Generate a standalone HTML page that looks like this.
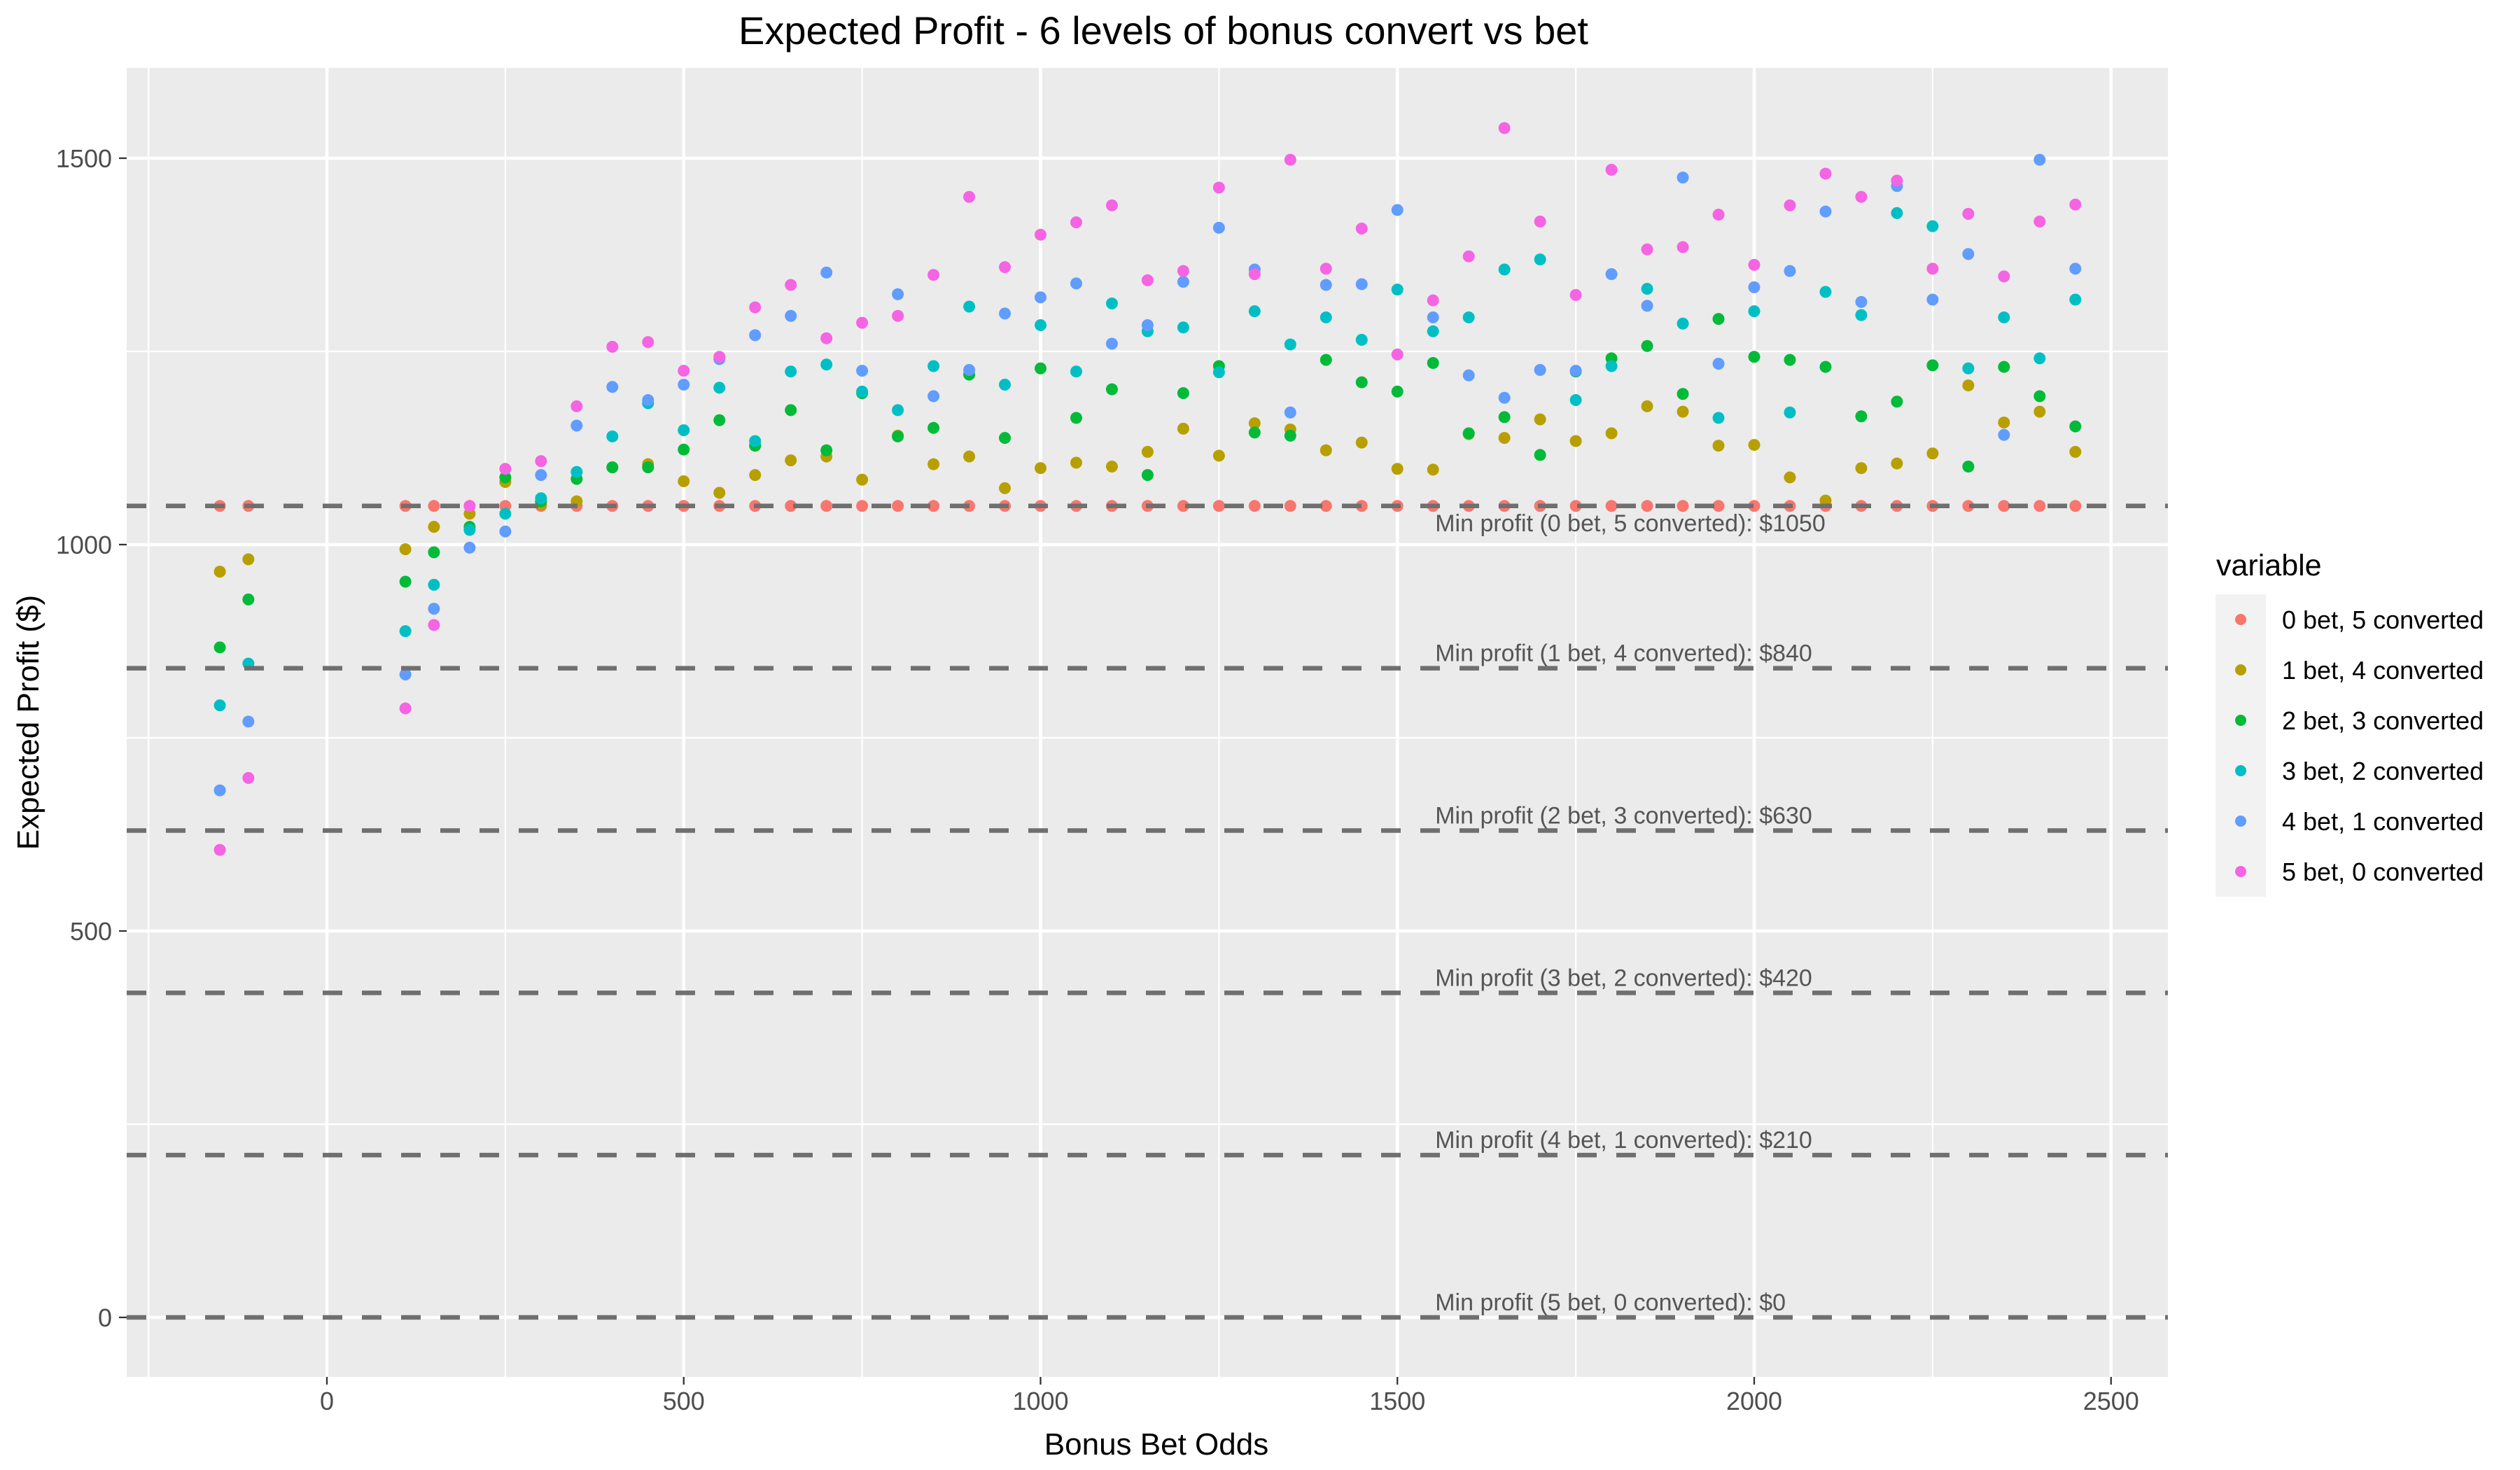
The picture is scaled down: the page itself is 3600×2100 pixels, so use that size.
<!DOCTYPE html>
<html><head><meta charset="utf-8"><style>
html,body{margin:0;padding:0;background:#fff;}
svg{display:block;font-family:"Liberation Sans",Arial,sans-serif;}
</style></head><body>
<svg id="chart" width="3600" height="2100" viewBox="0 0 3600 2100" xmlns="http://www.w3.org/2000/svg">
<rect width="3600" height="2100" fill="#fff"/>
<text x="1662" y="63" font-size="56" text-anchor="middle" fill="#000">Expected Profit - 6 levels of bonus convert vs bet</text>
<rect x="181" y="97" width="2916" height="1870" fill="#EBEBEB"/>
<g id="grid"></g>
<g id="points"></g>
<g id="hlines"></g>
<g id="axes"></g>
<text x="1652" y="2078" font-size="44" text-anchor="middle" fill="#000">Bonus Bet Odds</text>
<text transform="translate(55,1032) rotate(-90)" font-size="44" text-anchor="middle" fill="#000">Expected Profit ($)</text>
<g id="legend"></g>
</svg>
<script>
const xOdds = [-150,-110,110,150,200,250,300,350,400,450,500,550,600,650,700,750,800,850,900,950,1000,1050,1100,1150,1200,1250,1300,1350,1400,1450,1500,1550,1600,1650,1700,1750,1800,1850,1900,1950,2000,2050,2100,2150,2200,2250,2300,2350,2400,2450];
const seriesNames = ["0 bet, 5 converted","1 bet, 4 converted","2 bet, 3 converted","3 bet, 2 converted","4 bet, 1 converted","5 bet, 0 converted"];
const s0 = xOdds.map(()=>1050);
const s1 = [965,981,994,1023,1040,1081,1052,1056,1100,1104,1082,1067,1090,1109,1114,1084,1141,1104,1114,1073,1099,1106,1101,1120,1150,1115,1157,1149,1122,1132,1098,1097,1143,1138,1162,1134,1144,1179,1172,1128,1129,1087,1057,1099,1105,1118,1206,1158,1172,1120];
const s2 = [867,929,952,990,1023,1087,1056,1085,1100,1100,1123,1161,1128,1174,1122,1196,1140,1151,1220,1138,1228,1164,1201,1090,1196,1231,1145,1141,1239,1210,1198,1235,1144,1165,1116,1224,1241,1257,1195,1292,1243,1239,1230,1166,1185,1232,1101,1230,1192,1153];
const s3 = [792,846,888,948,1019,1040,1060,1094,1140,1183,1148,1203,1134,1224,1233,1198,1174,1231,1308,1207,1284,1224,1312,1276,1281,1223,1302,1259,1294,1265,1330,1276,1294,1356,1369,1187,1231,1331,1286,1164,1302,1171,1327,1297,1429,1412,1228,1294,1241,1317];
const s4 = [682,771,832,917,996,1017,1090,1154,1204,1187,1207,1240,1271,1296,1352,1225,1324,1192,1226,1299,1320,1338,1260,1284,1340,1410,1356,1171,1336,1337,1433,1294,1219,1190,1226,1225,1350,1309,1475,1234,1333,1354,1431,1314,1464,1317,1376,1142,1498,1357];
const s5 = [605,698,788,896,1050,1098,1108,1179,1256,1262,1225,1243,1307,1336,1267,1287,1296,1349,1450,1359,1401,1417,1439,1342,1354,1462,1350,1498,1357,1409,1246,1316,1373,1539,1418,1323,1485,1382,1385,1427,1362,1439,1480,1450,1471,1357,1428,1347,1418,1440];
const minProfits = [1050,840,630,420,210,0];
const xTicks = [0,500,1000,1500,2000,2500];
const xMinor = [-250,250,750,1250,1750,2250];
const yTicks = [0,500,1000,1500];
const yMinor = [250,750,1250];

const colors = ["#F8766D","#B79F00","#00BA38","#00BFC4","#619CFF","#F564E3"];
const allSeries = [s0,s1,s2,s3,s4,s5];
const NS = "http://www.w3.org/2000/svg";
const PL=181, PR=3097, PT=97, PB=1967;
function X(v){ return 467 + v*1.0195; }
function Y(v){ return 1882 - v*1.104; }
function mk(tag, attrs, parent){ const e=document.createElementNS(NS,tag); for(const k in attrs) e.setAttribute(k,attrs[k]); parent.appendChild(e); return e; }

const grid=document.getElementById('grid');
xMinor.forEach(v=>{ const x=X(v); if(x<PL||x>PR) return;
  const l=mk('line',{x1:x,x2:x,y1:PT,y2:PB,stroke:'#fff','stroke-width':2.3},grid);
  
   });
yMinor.forEach(v=>{ const y=Y(v);
  const l=mk('line',{x1:PL,x2:PR,y1:y,y2:y,stroke:'#fff','stroke-width':2.3},grid);
  
   });
xTicks.forEach(v=>{ const x=X(v);
  const l=mk('line',{x1:x,x2:x,y1:PT,y2:PB,stroke:'#fff','stroke-width':4.6},grid);
  
   });
yTicks.forEach(v=>{ const y=Y(v);
  const l=mk('line',{x1:PL,x2:PR,y1:y,y2:y,stroke:'#fff','stroke-width':4.6},grid);
  
   });

const pts=document.getElementById('points');
allSeries.forEach((s,si)=>{
  s.forEach((v,i)=>{
    const c=mk('circle',{cx:X(xOdds[i]),cy:Y(v),r:8.5,fill:colors[si]},pts);
    
    
  });
});

const hl=document.getElementById('hlines');
minProfits.forEach((v,i)=>{
  const y=Y(v);
  const l=mk('line',{x1:PL,x2:PR,y1:y,y2:y,stroke:'#6f6f6f','stroke-width':6.5,'stroke-dasharray':'28 28'},hl);
  
  
  const ty = i===0 ? y+36 : y-10;
  const t=mk('text',{x:X(1550)+3,y:ty,'font-size':34,fill:'#555'},hl);
  t.textContent='Min profit ('+i+' bet, '+(5-i)+' converted): $'+v;
  
  
});

const ax=document.getElementById('axes');
xTicks.forEach(v=>{ const x=X(v);
  const tk=mk('line',{x1:x,x2:x,y1:PB,y2:PB+11,stroke:'#333','stroke-width':2.3},ax);
  
  
  const t=mk('text',{x:x,y:2014,'font-size':36,'text-anchor':'middle',fill:'#4d4d4d'},ax);
  t.textContent=v;
  
   });
yTicks.forEach(v=>{ const y=Y(v);
  const tk=mk('line',{x1:PL-11,x2:PL,y1:y,y2:y,stroke:'#333','stroke-width':2.3},ax);
  
  
  const t=mk('text',{x:160,y:y+13,'font-size':36,'text-anchor':'end',fill:'#4d4d4d'},ax);
  t.textContent=v;
  
   });

const lg=document.getElementById('legend');
const lt=mk('text',{x:3166,y:822,'font-size':43,fill:'#000'},lg);
lt.textContent='variable';


const lb=mk('rect',{x:3165,y:849,width:72,height:432,fill:'#F2F2F2'},lg);


seriesNames.forEach((n,i)=>{
  const cy=885+i*72;
  const c=mk('circle',{cx:3201,cy:cy,r:8,fill:colors[i]},lg);
  
  
  const t=mk('text',{x:3260,y:cy+13,'font-size':36,fill:'#000'},lg);
  t.textContent=n;
  
  
});
</script>
</body></html>
